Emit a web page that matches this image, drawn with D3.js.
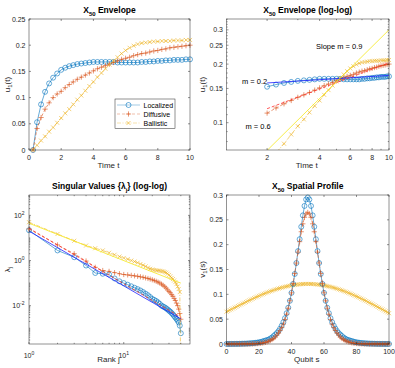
<!DOCTYPE html>
<html>
<head>
<meta charset="utf-8">
<script src="https://cdn.jsdelivr.net/npm/d3@7"></script>
<style>
  body { margin: 0; background: #fff; }
  svg { display: block; }
  text { white-space: pre; }
</style>
</head>
<body>
<script>
// ---- data ----
// envelope |u1(t)| sampled every 0.25 in time
const times = d3.range(1, 41).map(k => k / 4)
const envLocalized = [0, 0.053, 0.087, 0.111, 0.127, 0.138, 0.146, 0.153, 0.157, 0.160, 0.162, 0.164, 0.165, 0.166, 0.167, 0.168, 0.168, 0.168, 0.168, 0.168,
  0.168, 0.167, 0.167, 0.167, 0.167, 0.167, 0.167, 0.168, 0.168, 0.169, 0.169, 0.170, 0.170, 0.171, 0.171, 0.172, 0.172, 0.172, 0.173, 0.173]
const envDiffusive = [0, 0.041, 0.062, 0.078, 0.090, 0.100, 0.107, 0.112, 0.119, 0.125, 0.130, 0.135, 0.139, 0.143, 0.147, 0.151, 0.155, 0.158, 0.161, 0.164,
  0.167, 0.170, 0.173, 0.175, 0.177, 0.180, 0.182, 0.184, 0.185, 0.187, 0.189, 0.190, 0.192, 0.193, 0.195, 0.196, 0.197, 0.198, 0.199, 0.200]
const envBallistic = [0, 0.009, 0.018, 0.026, 0.035, 0.043, 0.052, 0.061, 0.070, 0.078, 0.087, 0.096, 0.104, 0.113, 0.122, 0.130, 0.139, 0.147, 0.155, 0.163,
  0.170, 0.177, 0.184, 0.190, 0.195, 0.199, 0.202, 0.204, 0.205, 0.206, 0.207, 0.207, 0.208, 0.208, 0.208, 0.209, 0.209, 0.209, 0.210, 0.210]

// power-law fits drawn on the log-log envelope (end points)
const fitTimes = [2, 10]
const fitLocalized = [0.160, 0.175]
const fitDiffusive = [0.118, 0.203]
const fitBallistic = [0.072, 0.300]

// singular values, rank j = 1..40
const ranks = d3.range(1, 41)
const svLocalized = [22, 2.8, 1.4, 0.6, 0.28, 0.26, 0.24, 0.16, 0.12, 0.1, 0.085, 0.072, 0.062, 0.054, 0.047, 0.040, 0.034, 0.029, 0.024, 0.020,
  0.018, 0.016, 0.014, 0.012, 0.010, 0.0092, 0.0084, 0.0076, 0.0068, 0.006, 0.0054, 0.0047, 0.0041, 0.0035, 0.003, 0.0026, 0.0022, 0.0018, 0.0013, 0.0006]
const svDiffusive = [25, 4.9, 2.0, 0.95, 0.5, 0.36, 0.33, 0.29, 0.26, 0.24, 0.23, 0.22, 0.21, 0.20, 0.19, 0.18, 0.17, 0.16, 0.15, 0.14,
  0.13, 0.12, 0.11, 0.10, 0.09, 0.08, 0.07, 0.06, 0.05, 0.043, 0.037, 0.031, 0.026, 0.021, 0.017, 0.013, 0.010, 0.007, 0.0045, 0.0025]
const svBallistic = [50, 15, 7.5, 4.6, 3.5, 2.8, 2.2, 1.8, 1.5, 1.3, 1.15, 1.0, 0.9, 0.8, 0.7, 0.62, 0.55, 0.48, 0.43, 0.40,
  0.38, 0.37, 0.36, 0.35, 0.34, 0.33, 0.31, 0.29, 0.26, 0.23, 0.2, 0.17, 0.15, 0.13, 0.11, 0.09, 0.07, 0.055, 0.04, 0.00001]
const svFitRanks = [1, 40]
const svFitLocalized = [20, 0.0026]
const svFitDiffusive = [27, 0.0031]
const svFitBallistic = [45, 0.1]

// spatial profile v1(s), qubit s = 0..100
const qubits = d3.range(0, 101)
const profLocalized = [0.0001, 0.0001, 0.0001, 0.0002, 0.0002, 0.0002, 0.0003, 0.0003, 0.0004, 0.0005, 0.0006, 0.0007, 0.0008, 0.001, 0.0012, 0.0014, 0.0017,
  0.002, 0.0024, 0.0028, 0.0034, 0.004, 0.005, 0.006, 0.007, 0.008, 0.009, 0.011, 0.013, 0.016, 0.019, 0.022, 0.026, 0.031, 0.037, 0.044, 0.052, 0.062,
  0.073, 0.087, 0.103, 0.121, 0.141, 0.163, 0.187, 0.211, 0.236, 0.259, 0.278, 0.291, 0.295,
  0.291, 0.278, 0.259, 0.236, 0.211, 0.187, 0.163, 0.141, 0.121, 0.103, 0.087, 0.073, 0.062, 0.052, 0.044, 0.037, 0.031, 0.026, 0.022, 0.019, 0.016,
  0.013, 0.011, 0.009, 0.008, 0.007, 0.006, 0.005, 0.004, 0.0034, 0.0028, 0.0024, 0.002, 0.0017, 0.0014, 0.0012, 0.001, 0.0008, 0.0007, 0.0006, 0.0005,
  0.0004, 0.0003, 0.0003, 0.0002, 0.0002, 0.0002, 0.0001, 0.0001, 0.0001]
const profDiffusive = [0.0001, 0.0001, 0.0001, 0.0001, 0.0001, 0.0001, 0.0001, 0.0001, 0.0001, 0.0001, 0.0001, 0.0001, 0.0001, 0.0001, 0.0002, 0.0002, 0.0003,
  0.0004, 0.0006, 0.0008, 0.001, 0.0014, 0.0019, 0.0025, 0.0033, 0.0043, 0.0055, 0.007, 0.009, 0.011, 0.014, 0.018, 0.022, 0.027, 0.033, 0.040, 0.049,
  0.060, 0.072, 0.087, 0.103, 0.122, 0.142, 0.163, 0.185, 0.206, 0.226, 0.242, 0.255, 0.262, 0.265,
  0.262, 0.255, 0.242, 0.226, 0.206, 0.185, 0.163, 0.142, 0.122, 0.103, 0.087, 0.072, 0.060, 0.049, 0.040, 0.033, 0.027, 0.022, 0.018, 0.014, 0.011,
  0.009, 0.007, 0.0055, 0.0043, 0.0033, 0.0025, 0.0019, 0.0014, 0.001, 0.0008, 0.0006, 0.0004, 0.0003, 0.0002, 0.0002, 0.0001, 0.0001, 0.0001, 0.0001,
  0.0001, 0.0001, 0.0001, 0.0001, 0.0001, 0.0001, 0.0001, 0.0001, 0.0001, 0.0001]
const profBallistic = [0.0650, 0.0666, 0.0682, 0.0699, 0.0715, 0.0732, 0.0748, 0.0765, 0.0781, 0.0797, 0.0814, 0.0830, 0.0846, 0.0862, 0.0878, 0.0894,
  0.0909, 0.0925, 0.0940, 0.0954, 0.0969, 0.0983, 0.0997, 0.1011, 0.1024, 0.1037, 0.1049, 0.1062, 0.1073, 0.1085, 0.1096, 0.1106, 0.1116, 0.1126,
  0.1135, 0.1144, 0.1152, 0.1160, 0.1167, 0.1174, 0.1180, 0.1186, 0.1191, 0.1195, 0.1199, 0.1202, 0.1205, 0.1207, 0.1209, 0.1210, 0.1210,
  0.1210, 0.1209, 0.1207, 0.1205, 0.1202, 0.1199, 0.1195, 0.1190, 0.1185, 0.1179, 0.1173, 0.1166, 0.1158, 0.1150, 0.1142, 0.1133, 0.1123, 0.1113,
  0.1102, 0.1091, 0.1080, 0.1068, 0.1056, 0.1043, 0.1030, 0.1016, 0.1002, 0.0988, 0.0973, 0.0958, 0.0943, 0.0928, 0.0912, 0.0896, 0.0880, 0.0864,
  0.0847, 0.0831, 0.0814, 0.0797, 0.0780, 0.0763, 0.0746, 0.0729, 0.0712, 0.0695, 0.0676, 0.0657, 0.0638, 0.0620]

// tick values / labels
const envTicksX = [0, 2, 4, 6, 8, 10]
const envTicksY = [0, 0.05, 0.1, 0.15, 0.2, 0.25]
const envTickLabelsY = ['0', '0.05', '0.1', '0.15', '0.2', '0.25']
const logTicksX = [2, 4, 6, 8, 10]
const logTicksY = [0.1, 0.15, 0.2, 0.25, 0.3]
const logTickLabelsY = ['0.1', '0.15', '0.2', '0.25', '0.3']
const svTicksX = [1, 10]
const svTickLabelsX = ['10^0', '10^1']
const svTicksY = [1e-2, 1, 1e2]
const svTickLabelsY = ['10^-2', '10^0', '10^2']
const profTicksX = [0, 20, 40, 60, 80, 100]
const profTicksY = [0, 0.05, 0.1, 0.15, 0.2, 0.25, 0.3]
const profTickLabelsY = ['0', '0.05', '0.1', '0.15', '0.2', '0.25', '0.3']
const legendNames = ['Localized', 'Diffusive', 'Ballistic']

// ---- style ----
const font = "'Liberation Sans', Arial, Helvetica, sans-serif",
      ink = '#262626'
const styles = [
    {color: '#0072BD', dash: null, marker: 'o', size: 2.5},
    {color: '#D95319', dash: '3,2', marker: '+', size: 2.6},
    {color: '#EDB120', dash: '4,1.5,1,1.5', marker: 'x', size: 2}
]
const fitColors = ['#1f1fff', '#ff2a2a', '#f5e81c']

const svg = d3.select('body').append('svg')
    .attr('width', 395)
    .attr('height', 368)
    .style('font-family', font)

svg.append('rect').attr('width', 395).attr('height', 368).attr('fill', '#fff')

const P1 = {l: 29, r: 190, t: 19, b: 150},
      P2 = {l: 226.5, r: 389, t: 19, b: 150},
      P3 = {l: 29, r: 190, t: 195, b: 344},
      P4 = {l: 226.5, r: 389, t: 195, b: 344}

//marker shapes
const symbolPath = (type, r) => {
    if (type === 'o') return `M${r},0A${r},${r} 0 1,1 ${-r},0A${r},${r} 0 1,1 ${r},0Z`
    if (type === '+') return `M${-r},0H${r}M0,${-r}V${r}`
    return `M${-r},${-r}L${r},${r}M${-r},${r}L${r},${-r}`
}

//text with _{sub} parts
const richText = (sel, str, subSize, shift) => {
    const parts = str.split(/_\{([^}]*)\}/)
    parts.forEach((p, i) => {
        const ts = sel.append('tspan').text(p)
        if (i % 2 === 1) ts.attr('dy', shift).attr('font-size', subSize)
        else if (i > 0) ts.attr('dy', -shift)
    })
}

//tick label with ^exponent
const supText = (sel, str) => {
    const [base, exp] = str.split('^')
    sel.append('tspan').text(base)
    if (exp) sel.append('tspan').attr('dy', -3).attr('font-size', 5).text(exp)
}

const frame = (P, x, y, o) => {
    const g = svg.append('g')
    const tick = (v, len, axis) => {
        if (axis === 'x') {
            const px = x(v)
            g.append('path').attr('d', `M${px},${P.b}V${P.b - len}M${px},${P.t}V${P.t + len}`)
        } else {
            const py = y(v)
            g.append('path').attr('d', `M${P.l},${py}H${P.l + len}M${P.r},${py}H${P.r - len}`)
        }
    }
    ;(o.xMinor || []).forEach(v => tick(v, 1.2, 'x'))
    ;(o.yMinor || []).forEach(v => tick(v, 1.2, 'y'))
    o.xTicks.forEach(v => tick(v, 2, 'x'))
    o.yTicks.forEach(v => tick(v, 2, 'y'))
    g.selectAll('path').attr('stroke', ink).attr('stroke-width', 0.5).attr('fill', 'none')

    g.append('rect')
        .attr('x', P.l).attr('y', P.t)
        .attr('width', P.r - P.l).attr('height', P.b - P.t)
        .attr('fill', 'none').attr('stroke', ink).attr('stroke-width', 0.5)

    o.xTicks.forEach((v, i) => {
        const t = g.append('text')
            .attr('x', x(v)).attr('y', P.b + (o.xSup ? 13.5 : 10))
            .attr('text-anchor', 'middle').attr('font-size', 7).attr('fill', ink)
        supText(t, o.xLabels[i])
    })
    o.yTicks.forEach((v, i) => {
        const t = g.append('text')
            .attr('x', P.l - (o.ySup ? 4.5 : 3.5)).attr('y', y(v) + 2.5)
            .attr('text-anchor', 'end').attr('font-size', 7).attr('fill', ink)
        supText(t, o.yLabels[i])
    })

    const title = g.append('text')
        .attr('x', (P.l + P.r) / 2).attr('y', P.t - 6.3)
        .attr('text-anchor', 'middle').attr('font-size', 8.5).attr('font-weight', 'bold').attr('fill', '#000')
    richText(title, o.title, 6, 3.5)

    const xl = g.append('text')
        .attr('x', (P.l + P.r) / 2 - 1).attr('y', P.b + 18)
        .attr('text-anchor', 'middle').attr('font-size', 8).attr('fill', ink)
    richText(xl, o.xLabel, 6, 2)

    const yl = g.append('text')
        .attr('transform', `translate(${P.l - (o.yLabelGap || 19.5)},${(P.t + P.b) / 2}) rotate(-90)`)
        .attr('text-anchor', 'middle').attr('font-size', 8).attr('fill', ink)
    richText(yl, o.yLabel, 6, 2)
}

const clipFor = (id, P) => {
    svg.append('clipPath').attr('id', id)
        .append('rect').attr('x', P.l).attr('y', P.t).attr('width', P.r - P.l).attr('height', P.b - P.t)
    return `url(#${id})`
}

const drawSeries = (x, y, xs, ys, st, clip) => {
    const pts = xs.map((v, i) => [v, ys[i]])
    const [y0, y1] = y.domain()
    const g = svg.append('g')
    g.append('path')
        .datum(pts)
        .attr('d', d3.line().x(d => x(d[0])).y(d => y(d[1])))
        .attr('fill', 'none')
        .attr('stroke', st.color)
        .attr('stroke-width', 0.6)
        .attr('stroke-dasharray', st.dash)
        .attr('clip-path', clip)
    g.selectAll('.mk')
        .data(pts.filter(d => d[1] >= Math.min(y0, y1) && d[1] <= Math.max(y0, y1)))
        .join('path')
        .attr('class', 'mk')
        .attr('transform', d => `translate(${x(d[0])},${y(d[1])})`)
        .attr('d', symbolPath(st.marker, st.size))
        .attr('fill', 'none')
        .attr('stroke', st.color)
        .attr('stroke-width', 0.6)
}

const drawFit = (x, y, xs, ys, color, dash, clip) => {
    svg.append('path')
        .datum(xs.map((v, i) => [v, ys[i]]))
        .attr('d', d3.line().x(d => x(d[0])).y(d => y(d[1])))
        .attr('fill', 'none')
        .attr('stroke', color)
        .attr('stroke-width', 0.8)
        .attr('stroke-dasharray', dash)
        .attr('clip-path', clip)
}

// ---- panel 1: envelope ----
const x1 = d3.scaleLinear().domain([0, 10]).range([P1.l, P1.r])
const y1 = d3.scaleLinear().domain([0, 0.25]).range([P1.b, P1.t])
const envSeries = [envLocalized, envDiffusive, envBallistic]
envSeries.forEach((s, i) => drawSeries(x1, y1, times, s, styles[i], null))
frame(P1, x1, y1, {
    xTicks: envTicksX, xLabels: envTicksX.map(String),
    yTicks: envTicksY, yLabels: envTickLabelsY,
    title: 'X_{50} Envelope', xLabel: 'Time t', yLabel: 'u_{1}(t)'
})

//legend
const leg = svg.append('g')
leg.append('rect')
    .attr('x', 115).attr('y', 99).attr('width', 60).attr('height', 29.5)
    .attr('fill', '#fff').attr('stroke', ink).attr('stroke-width', 0.5)
legendNames.forEach((name, i) => {
    const yy = 105 + 9 * i, st = styles[i]
    leg.append('path')
        .attr('d', `M117,${yy}H140`)
        .attr('stroke', st.color).attr('stroke-width', 0.6).attr('stroke-dasharray', st.dash).attr('opacity', 0.6)
    leg.append('path')
        .attr('transform', `translate(128.5,${yy})`)
        .attr('d', symbolPath(st.marker, st.size))
        .attr('fill', 'none').attr('stroke', st.color).attr('stroke-width', 0.6)
    leg.append('text')
        .attr('x', 143.5).attr('y', yy + 2.5)
        .attr('font-size', 7).attr('fill', '#000').text(name)
})

// ---- panel 2: envelope log-log ----
const x2 = d3.scaleLog().domain([1.17, 10]).range([P2.l, P2.r])
const y2 = d3.scaleLog().domain([0.0724, 0.341]).range([P2.b, P2.t])
const clip2 = clipFor('clip2', P2)
const late = times.map((t, i) => i).filter(i => times[i] >= 2)
envSeries.forEach((s, i) => drawSeries(x2, y2, late.map(k => times[k]), late.map(k => s[k]), styles[i], clip2))
drawFit(x2, y2, fitTimes, fitLocalized, fitColors[0], null, clip2)
drawFit(x2, y2, fitTimes, fitDiffusive, fitColors[1], '3,2', clip2)
drawFit(x2, y2, fitTimes, fitBallistic, fitColors[2], null, clip2)
frame(P2, x2, y2, {
    xTicks: logTicksX, xLabels: logTicksX.map(String), xMinor: [3, 5, 7, 9],
    yTicks: logTicksY, yLabels: logTickLabelsY,
    yMinor: d3.range(8, 35).map(v => v / 100).filter(v => !logTicksY.includes(v)),
    title: 'X_{50} Envelope (log-log)', xLabel: 'Time t', yLabel: 'u_{1}(t)', yLabelGap: 22
})
const notes = [['Slope m = 0.9', 316, 48.5], ['m = 0.2', 242, 83.5], ['m = 0.6', 245.5, 128.5]]
notes.forEach(([txt, nx, ny]) => svg.append('text')
    .attr('x', nx).attr('y', ny).attr('font-size', 7.5).attr('fill', '#000').text(txt))

// ---- panel 3: singular values ----
const x3 = d3.scaleLog().domain([1, 50]).range([P3.l, P3.r])
const y3 = d3.scaleLog().domain([2e-4, 800]).range([P3.b, P3.t])
const clip3 = clipFor('clip3', P3)
;[svLocalized, svDiffusive, svBallistic].forEach((s, i) => drawSeries(x3, y3, ranks, s, styles[i], clip3))
drawFit(x3, y3, svFitRanks, svFitLocalized, fitColors[0], null, clip3)
drawFit(x3, y3, svFitRanks, svFitDiffusive, fitColors[1], '3,2', clip3)
drawFit(x3, y3, svFitRanks, svFitBallistic, fitColors[2], null, clip3)
const decMinor = []
d3.range(-4, 3).forEach(e => d3.range(1, 10).forEach(m => {
    const v = m * Math.pow(10, e)
    if (v > 2e-4 && v < 800 && !svTicksY.includes(v)) decMinor.push(v)
}))
frame(P3, x3, y3, {
    xTicks: svTicksX, xLabels: svTickLabelsX, xSup: true,
    xMinor: [2, 3, 4, 5, 6, 7, 8, 9, 20, 30, 40],
    yTicks: svTicksY, yLabels: svTickLabelsY, ySup: true, yMinor: decMinor,
    title: 'Singular Values {λ_{j}} (log-log)', xLabel: 'Rank j', yLabel: 'λ_{j}'
})

// ---- panel 4: spatial profile ----
const x4 = d3.scaleLinear().domain([0, 100]).range([P4.l, P4.r])
const y4 = d3.scaleLinear().domain([0, 0.3]).range([P4.b, P4.t])
;[profBallistic, profLocalized, profDiffusive].forEach((s, i) => drawSeries(x4, y4, qubits, s, styles[[2, 0, 1][i]], null))
frame(P4, x4, y4, {
    xTicks: profTicksX, xLabels: profTicksX.map(String),
    yTicks: profTicksY, yLabels: profTickLabelsY,
    title: 'X_{50} Spatial Profile', xLabel: 'Qubit s', yLabel: 'v_{1}(s)', yLabelGap: 22
})
</script>
</body>
</html>
